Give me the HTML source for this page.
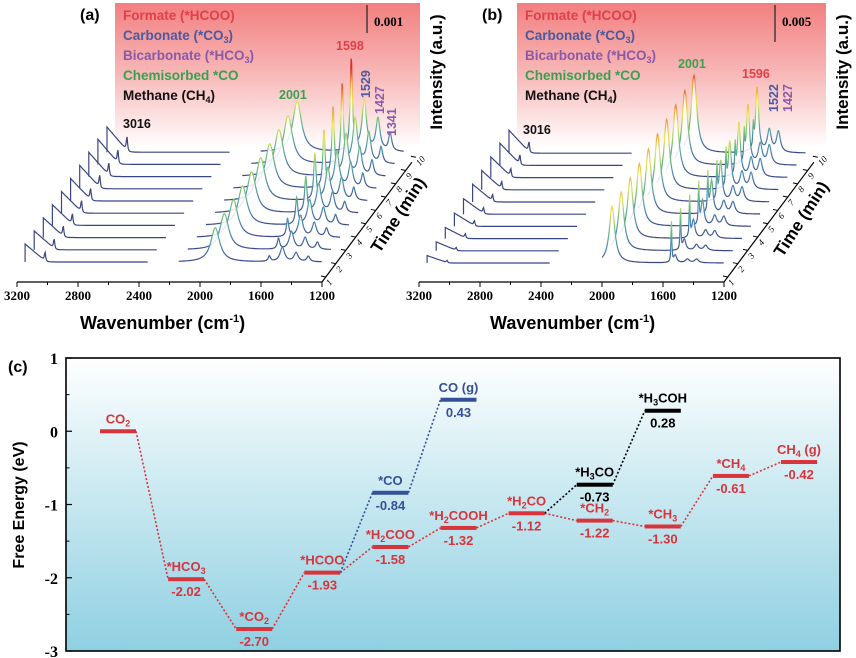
<!DOCTYPE html>
<html><head><meta charset="utf-8">
<style>
html,body{margin:0;padding:0;background:#fff;}
svg{display:block;font-family:"Liberation Sans",sans-serif;}
</style></head>
<body>
<svg id="fig" width="856" height="658" viewBox="0 0 856 658" xmlns="http://www.w3.org/2000/svg">
<defs>
<linearGradient id="redfade" x1="0" y1="0" x2="0" y2="1">
<stop offset="0" stop-color="#f27f80"/><stop offset="0.5" stop-color="#f8b9b9"/><stop offset="1" stop-color="#ffffff"/>
</linearGradient>
<linearGradient id="bluefade" x1="0" y1="0" x2="0" y2="1">
<stop offset="0" stop-color="#ffffff"/><stop offset="0.35" stop-color="#d6eef4"/><stop offset="1" stop-color="#8fd0e2"/>
</linearGradient>
</defs>
<g id="panelA"></g>
<g id="panelB"></g>
<g id="panelC"></g>
</svg>
<script>
// ---------- Panel (a)/(b) data (amplitudes in units of 0.001 a.u.) ----------
const timeLabels = ['1','2','3','4','5','6','7','8','9','10'];
const wavenumberTicks = [3200, 2800, 2400, 2000, 1600, 1200];
// panel a
const aStep   = [1.0,1.05,1.1,1.15,1.2,1.25,1.3,1.35,1.4,1.4];
const a3016   = [0.5,0.55,0.6,0.6,0.65,0.65,0.7,0.7,0.75,0.8];
const aCO     = [1.9,2.0,2.1,2.2,2.3,2.4,2.5,2.6,2.7,2.8];
const aFormate= [0.3,0.6,1.0,1.5,2.0,2.6,3.2,3.8,4.4,5.1];
const aCarb   = [0.8,1.0,1.2,1.4,1.6,1.8,2.0,2.3,2.5,2.8];
const aBicarb = [0.5,0.65,0.8,0.95,1.1,1.25,1.4,1.55,1.7,1.8];
const a1341   = [0.3,0.4,0.5,0.55,0.6,0.7,0.8,0.85,0.9,1.0];
// panel b
const bStep   = [1.0,1.2,1.5,1.8,2.1,2.4,2.6,2.8,3.0,3.1];
const b3016   = [0.3,0.4,0.6,0.7,0.8,0.9,1.0,1.1,1.3,1.4];
const bCO     = [7.6,7.9,8.2,8.5,8.8,9.2,9.5,9.8,10.1,10.5];
const bSpike  = [6.0,6.0,6.0,6.0,5.5,5.0,5.0,4.0,4.0,3.0];
const bFormate= [1.0,1.5,2.5,3.5,4.5,5.5,6.5,7.3,8.1,8.8];
const bCarb   = [0.5,0.8,1.1,1.4,1.7,2.0,2.3,2.5,2.8,3.0];
const bBicarb = [0.5,0.7,1.0,1.3,1.6,1.9,2.2,2.4,2.6,2.8];

// ---------- Panel (c) data ----------
const levelNames  = ['CO2','*HCO3','*CO2','*HCOO','*H2COO','*H2COOH','*H2CO','*CH2','*CH3','*CH4','CH4 (g)','*CO','CO (g)','*H3CO','*H3COH'];
const levelEnergy = [0,-2.02,-2.70,-1.93,-1.58,-1.32,-1.12,-1.22,-1.30,-0.61,-0.42,-0.84,0.43,-0.73,0.28];
const levelStep   = [0,1,2,3,4,5,6,7,8,9,10,4,5,7,8];
const levelPath   = ['r','r','r','r','r','r','r','r','r','r','r','b','b','k','k'];
const showValue   = [false,true,true,true,true,true,true,true,true,true,true,true,true,true,true];
const redPath   = [0,1,2,3,4,5,6,7,8,9,10];
const bluePath  = [3,11,12];
const blackPath = [6,13,14];
const energyTicks = [1,0,-1,-2,-3];

const NS='http://www.w3.org/2000/svg';
function mk(tag, attrs, parent){const e=document.createElementNS(NS,tag);for(const k in attrs)e.setAttribute(k,attrs[k]);if(parent)parent.appendChild(e);return e;}
function txt(parent, x, y, str, style){const t=mk('text',Object.assign({x:x,y:y},style||{}),parent);t.textContent=str;return t;}
function subText(t, pre, sub, post, fs){
  t.appendChild(document.createTextNode(pre));
  const s=mk('tspan',{dy:3,'font-size':fs},t);s.textContent=sub;
  const r=mk('tspan',{dy:-3},t);r.textContent=post||'\u200B';
}

function lor(w,c,hw){const d=(w-c)/hw;return 1/(1+d*d);}

function drawWaterfall(g, P){
  const xw = w => P.x0 + (3200-w)*P.k;
  const bg=mk('rect',{x:P.bx,y:3,width:P.bw,height:145,fill:'url(#redfade)'},g);
  
  
  const defs=document.querySelector('defs');
  for(let i=timeLabels.length-1;i>=0;i--){
    const ox=i*P.dx, base=P.yb - i*P.dy;
    const gid='sg'+P.id+i;
    const lg=mk('linearGradient',{id:gid,gradientUnits:'userSpaceOnUse',x1:0,y1:base,x2:0,y2:base-85},defs);
    [['0','#3a4684'],['0.18','#4a86b8'],['0.38','#6cc07a'],['0.6','#eae35a'],['0.8','#f0a040'],['1','#e02a2a']].forEach(s=>mk('stop',{offset:s[0],'stop-color':s[1]},lg));
    let d='';
    for(let w=3147; w>=2340; w-=4){
      let v = P.step[i]*Math.max(0,1-(3147-w)/140) + P.s3016[i]*lor(w,3016,5);
      const x=xw(w)+ox, y=base - v*P.pu;
      d += (d?'L':'M')+x.toFixed(1)+' '+y.toFixed(1);
    }
    const x1=xw(3147)+ox;
    d = 'M'+x1.toFixed(1)+' '+base.toFixed(1)+'L'+d.slice(1);
    const left=mk('path',{d:d,fill:'none',stroke:'#3a4684','stroke-width':1.2},g);
    
    
    d='';
    const ws=P.rStart;
    for(let w=ws; w>=1200; w-=3){
      let v=0;
      P.peaks.forEach(pk=>{v+=pk.amp[i]*lor(w,pk.c,pk.hw);});
      const x=xw(w)+ox, y=base - v*P.pu;
      d += (d?'L':'M')+x.toFixed(1)+' '+y.toFixed(1);
    }
    const xe=xw(1200)+ox, xs=xw(ws)+ox;
    const fill=mk('path',{d:d+'L'+xe.toFixed(1)+' '+base+'L'+xs.toFixed(1)+' '+base+'Z',fill:'#ffffff',stroke:'none','fill-opacity':0.85},g);
    
    
    const right=mk('path',{d:d,fill:'none',stroke:'url(#'+gid+')','stroke-width':1.2},g);
    
    
  }
  const ax=mk('line',{x1:xw(3200),y1:P.ya,x2:xw(1200),y2:P.ya,stroke:'#000','stroke-width':1.3},g);
  
  
  for(let w=3200; w>=1200; w-=200){
    const major = wavenumberTicks.indexOf(w)>=0;
    mk('line',{x1:xw(w),y1:P.ya,x2:xw(w),y2:P.ya+(major?5:3),stroke:'#000','stroke-width':1},g);
  }
  wavenumberTicks.forEach(w=>{
    const t=txt(g,xw(w),P.ya+18,String(w),{'text-anchor':'middle','font-family':'Liberation Serif, serif','font-weight':'bold','font-size':'13'});
    
    
  });
  const xt=txt(g,P.titleX,P.ya+47,'Wavenumber (cm',{'font-weight':'bold','font-size':'18'});
  const sup=mk('tspan',{dy:-7,'font-size':'11'},xt);sup.textContent='-1';
  const cl=mk('tspan',{dy:7},xt);cl.textContent=')';
  
  
  const tx0=xw(1200), tn=timeLabels.length-1;
  const tx1=tx0+tn*P.dx+8, ty1=P.ya-tn*P.dy-10;
  const ta=mk('line',{x1:tx0,y1:P.ya,x2:tx1,y2:ty1,stroke:'#000','stroke-width':1.2},g);
  
  
  timeLabels.forEach((lab,i)=>{
    const px=tx0+i*P.dx+8*(i/tn)+4, py=P.ya-i*P.dy-10*(i/tn)-5;
    mk('line',{x1:px,y1:py,x2:px-5,y2:py-1,stroke:'#000','stroke-width':1},g);
    const t=txt(g,px+4,py+9,lab,{'font-family':'Liberation Serif, serif','font-style':'italic','font-size':'9',transform:'rotate(-50 '+(px+4)+' '+(py+9)+')'});
    
    
  });
  const tt=txt(g,P.timeX,P.timeY,'Time (min)',{'font-weight':'bold','font-size':'17','text-anchor':'middle',transform:'rotate(-57 '+P.timeX+' '+P.timeY+')'});
  
  
  const it=txt(g,P.intX,72,'Intensity (a.u.)',{'font-weight':'bold','font-size':'17','text-anchor':'middle',transform:'rotate(-90 '+P.intX+' 72)'});
  
  
  const pl=txt(g,P.labX,20,P.lab,{'font-weight':'bold','font-size':'16'});
  
  
  const leg=[['Formate (*HCOO)','#e0404a'],['Carbonate (*CO3)','#4a5aa0'],['Bicarbonate (*HCO3)','#8a5aa8'],['Chemisorbed *CO','#3aa050'],['Methane (CH4)','#111']];
  leg.forEach((l,i)=>{
    const t=txt(g,P.bx+8,20+i*20,'',{'font-size':'13.5','font-weight':'bold',fill:l[1]});
    const m=l[0].match(/^(.*?)(\d)(\).*)$/);
    if(m) subText(t,m[1],m[2],m[3],'9'); else t.textContent=l[0];
    
    
  });
  mk('line',{x1:P.barX,y1:P.barY1,x2:P.barX,y2:P.barY2,stroke:'#222','stroke-width':1.2},g);
  const sb=txt(g,P.barX+7,26,P.scale,{'font-family':'Liberation Serif, serif','font-weight':'bold','font-size':'13'});
  
  
  P.ann.forEach(a=>{
    const t=txt(g,a.x,a.y,a.t,{'font-size':'12.5','font-weight':'bold',fill:a.c,transform:a.r?('rotate(-90 '+a.x+' '+a.y+')'):''});
    
    
  });
}

drawWaterfall(document.getElementById('panelA'),{
  id:'a', x0:17, k:0.1525, ya:282, yb:262, dx:9.1, dy:12.2, pu:18, rStart:2140,
  step:aStep, s3016:a3016,
  peaks:[{c:1900,hw:35,amp:aCO},{c:1545,hw:9,amp:aFormate},{c:1460,hw:18,amp:aCarb},{c:1370,hw:16,amp:aBicarb},{c:1290,hw:12,amp:a1341}],
  bx:115,bw:305,barX:367,barY1:5,barY2:33,scale:'0.001',
  labX:80,lab:'(a)',titleX:80,timeX:403,timeY:218,intX:442,
  ann:[{x:123,y:128,t:'3016',c:'#111'},{x:279,y:99,t:'2001',c:'#3aa050'},{x:336,y:50,t:'1598',c:'#e0404a'},
       {x:370,y:98,t:'1529',c:'#4a5aa0',r:1},{x:384,y:114,t:'1427',c:'#8a5aa8',r:1},{x:396,y:136,t:'1341',c:'#8a5aa8',r:1}]
});
drawWaterfall(document.getElementById('panelB'),{
  id:'b', x0:419, k:0.1525, ya:282, yb:263, dx:9.1, dy:12.2, pu:7.4, rStart:2000,
  step:bStep, s3016:b3016,
  peaks:[{c:1934,hw:22,amp:bCO},{c:1545,hw:3,amp:bSpike},{c:1520,hw:12,amp:bFormate},{c:1440,hw:15,amp:bCarb},{c:1380,hw:15,amp:bBicarb}],
  bx:517,bw:309,barX:775,barY1:5,barY2:42,scale:'0.005',
  labX:482,lab:'(b)',titleX:490,timeX:806,timeY:222,intX:848,
  ann:[{x:523,y:134,t:'3016',c:'#111'},{x:678,y:68,t:'2001',c:'#3aa050'},{x:742,y:78,t:'1596',c:'#e0404a'},
       {x:778,y:112,t:'1522',c:'#4a5aa0',r:1},{x:792,y:112,t:'1427',c:'#8a5aa8',r:1}]
});

// ---------- Panel (c) ----------
(function(){
  const g=document.getElementById('panelC');
  const L=66,R=840,T=358,B=651;
  const yE = v => T + (1-v)*(B-T)/4;
  const xS = s => 118 + s*68.1;
  const bg=mk('rect',{x:L,y:T,width:R-L,height:B-T,fill:'url(#bluefade)',stroke:'#000','stroke-width':1.6},g);
  
  
  energyTicks.forEach(v=>{
    mk('line',{x1:L,y1:yE(v),x2:L+6,y2:yE(v),stroke:'#000','stroke-width':1.2},g);
    if(v>-3) mk('line',{x1:L,y1:yE(v-0.5),x2:L+3.5,y2:yE(v-0.5),stroke:'#000','stroke-width':1},g);
    const t=txt(g,L-8,yE(v)+6,String(v),{'text-anchor':'end','font-family':'Liberation Serif, serif','font-weight':'bold','font-size':'16'});
    
    
  });
  const yt=txt(g,24,505,'Free Energy (eV)',{'text-anchor':'middle','font-weight':'bold','font-size':'16',transform:'rotate(-90 24 505)'});
  
  
  const pc=txt(g,8,372,'(c)',{'font-weight':'bold','font-size':'16'});
  
  
  const col={r:'#d8343c',b:'#34509a',k:'#000'};
  function conn(path,c,nm){
    for(let j=0;j<path.length-1;j++){
      const a=path[j],b=path[j+1];
      const ln=mk('line',{x1:xS(levelStep[a])+18,y1:yE(levelEnergy[a]),x2:xS(levelStep[b])-18,y2:yE(levelEnergy[b]),stroke:c,'stroke-width':1.6,'stroke-dasharray':'2 2'},g);
      
      
    }
  }
  conn(redPath,col.r,'ch4-pathway-connector');
  conn(bluePath,col.b,'co-pathway-connector');
  conn(blackPath,col.k,'methanol-pathway-connector');
  levelNames.forEach((n,i)=>{
    const cx=xS(levelStep[i]), cy=yE(levelEnergy[i]), c=col[levelPath[i]];
    const bar=mk('rect',{x:cx-18,y:cy-2,width:36,height:4,fill:c},g);
    
    
    const t=txt(g,cx,cy-8,'',{'text-anchor':'middle','font-size':'13','font-weight':'bold',fill:c,'font-family':'Liberation Sans Narrow, Liberation Sans, sans-serif'});
    const m=n.match(/^(.*?[A-Z])(\d)(.*)$/);
    if(m) subText(t,m[1],m[2],m[3],'9'); else t.textContent=n;
    
    
    if(showValue[i]){
      const v=txt(g,cx,cy+17,levelEnergy[i].toFixed(2),{'text-anchor':'middle','font-size':'13','font-weight':'bold',fill:c,'font-family':'Liberation Sans Narrow, Liberation Sans, sans-serif'});
      
      
    }
  });
})();
</script>
</body></html>
